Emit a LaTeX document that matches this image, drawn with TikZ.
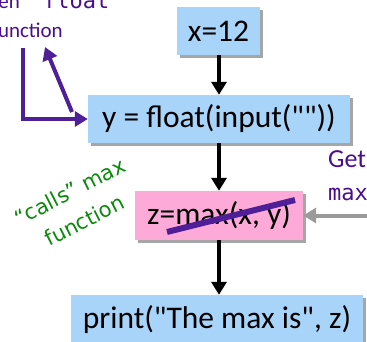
\documentclass[tikz,border=0pt]{standalone}
\usepackage{fontspec}
\setmainfont{Carlito}
\newfontfamily\boxfont{Carlito}
\newfontfamily\greenfont{DejaVu Sans}
\newfontfamily\codefont{DejaVu Sans Mono}
\usetikzlibrary{arrows.meta,shadows,calc}
\definecolor{boxblue}{HTML}{A8D4FA}
\definecolor{boxpink}{HTML}{FDAAD8}
\definecolor{linepurple}{HTML}{4E1F96}
\definecolor{textpurple}{HTML}{4A0D8C}
\definecolor{notegreen}{HTML}{0A8A0A}
\definecolor{arrowgray}{HTML}{9A9A9A}
\tikzset{
  codebox/.style={draw=none, inner sep=0pt, font=\boxfont\fontsize{31.5}{36}\selectfont,
    drop shadow={shadow xshift=3pt, shadow yshift=-3pt, fill=black, opacity=0.35}},
  bluebox/.style={codebox, fill=boxblue},
  pinkbox/.style={codebox, fill=boxpink},
  flowarrow/.style={line width=4pt, -{Triangle[width=15pt,length=13pt]}},
  purplearrow/.style={line width=4pt, linepurple, -{Triangle[width=15pt,length=13pt]}},
  grayarrow/.style={line width=4pt, arrowgray, -{Triangle[width=15pt,length=13pt]}},
  purplelabel/.style={inner sep=0pt, text=textpurple, font=\fontsize{21}{25}\selectfont},
  biglabel/.style={inner sep=0pt, text=textpurple, font=\fontsize{26}{28}\selectfont},
  codelabel/.style={inner sep=0pt, text=textpurple, font=\codefont\fontsize{22}{25}\selectfont},
}
\begin{document}
\begin{tikzpicture}[x=1pt,y=-1pt]
\useasboundingbox (0,0) rectangle (367,341);
% boxes
\node[bluebox, minimum width=83pt, minimum height=48pt] (b1) at (218.5,31) {x=12};
\node[bluebox, minimum width=262pt, minimum height=48pt] (b2) at (219,119) {y = float(input(""))};
\node[pinkbox, minimum width=168pt, minimum height=49pt] (b3) at (219,215.5) {z=max(x, y)};
\node[bluebox, minimum width=292pt, minimum height=50pt] (b4) at (217,320) {print("The max is", z)};
% flow arrows
\draw[flowarrow] (b2.north |- b1.south) -- (b2.north);
\draw[flowarrow] (b2.south) -- (b3.north);
\draw[flowarrow] (b3.south) -- (b3.south |- b4.north);
% strike through max
\coordinate (s1) at (167,232);
\coordinate (s2) at (295,200);
\draw[line width=6pt, linepurple] (s1) -- (s2);
% gray arrow from right
\coordinate (g0) at (372,215.5);
\draw[grayarrow] (g0) -- (b3.east);
% purple arrows top left
\coordinate (p0) at (23,48);
\draw[purplearrow] (p0) |- (b2.west);
\coordinate (q0) at (72,112);
\coordinate (q1) at (45,47);
\draw[purplearrow] (q0) -- (q1);
% purple labels
\node[purplelabel, anchor=base east] (t1) at (20,8) {hen};
\node[codelabel, anchor=base west] (t2) at (43,8) {float};
\node[purplelabel, anchor=base east] (t3) at (63,37) {unction};
\node[biglabel, anchor=base west] (t4) at (328,167) {Get};
\node[codelabel, anchor=base west] (t5) at (328,200) {max};
% green note
\node[inner sep=0pt, text=notegreen, font=\greenfont\fontsize{21}{32}\selectfont, align=center, rotate=27] (n1) at (77,206) {“calls” max\\function};
\end{tikzpicture}
\end{document}
